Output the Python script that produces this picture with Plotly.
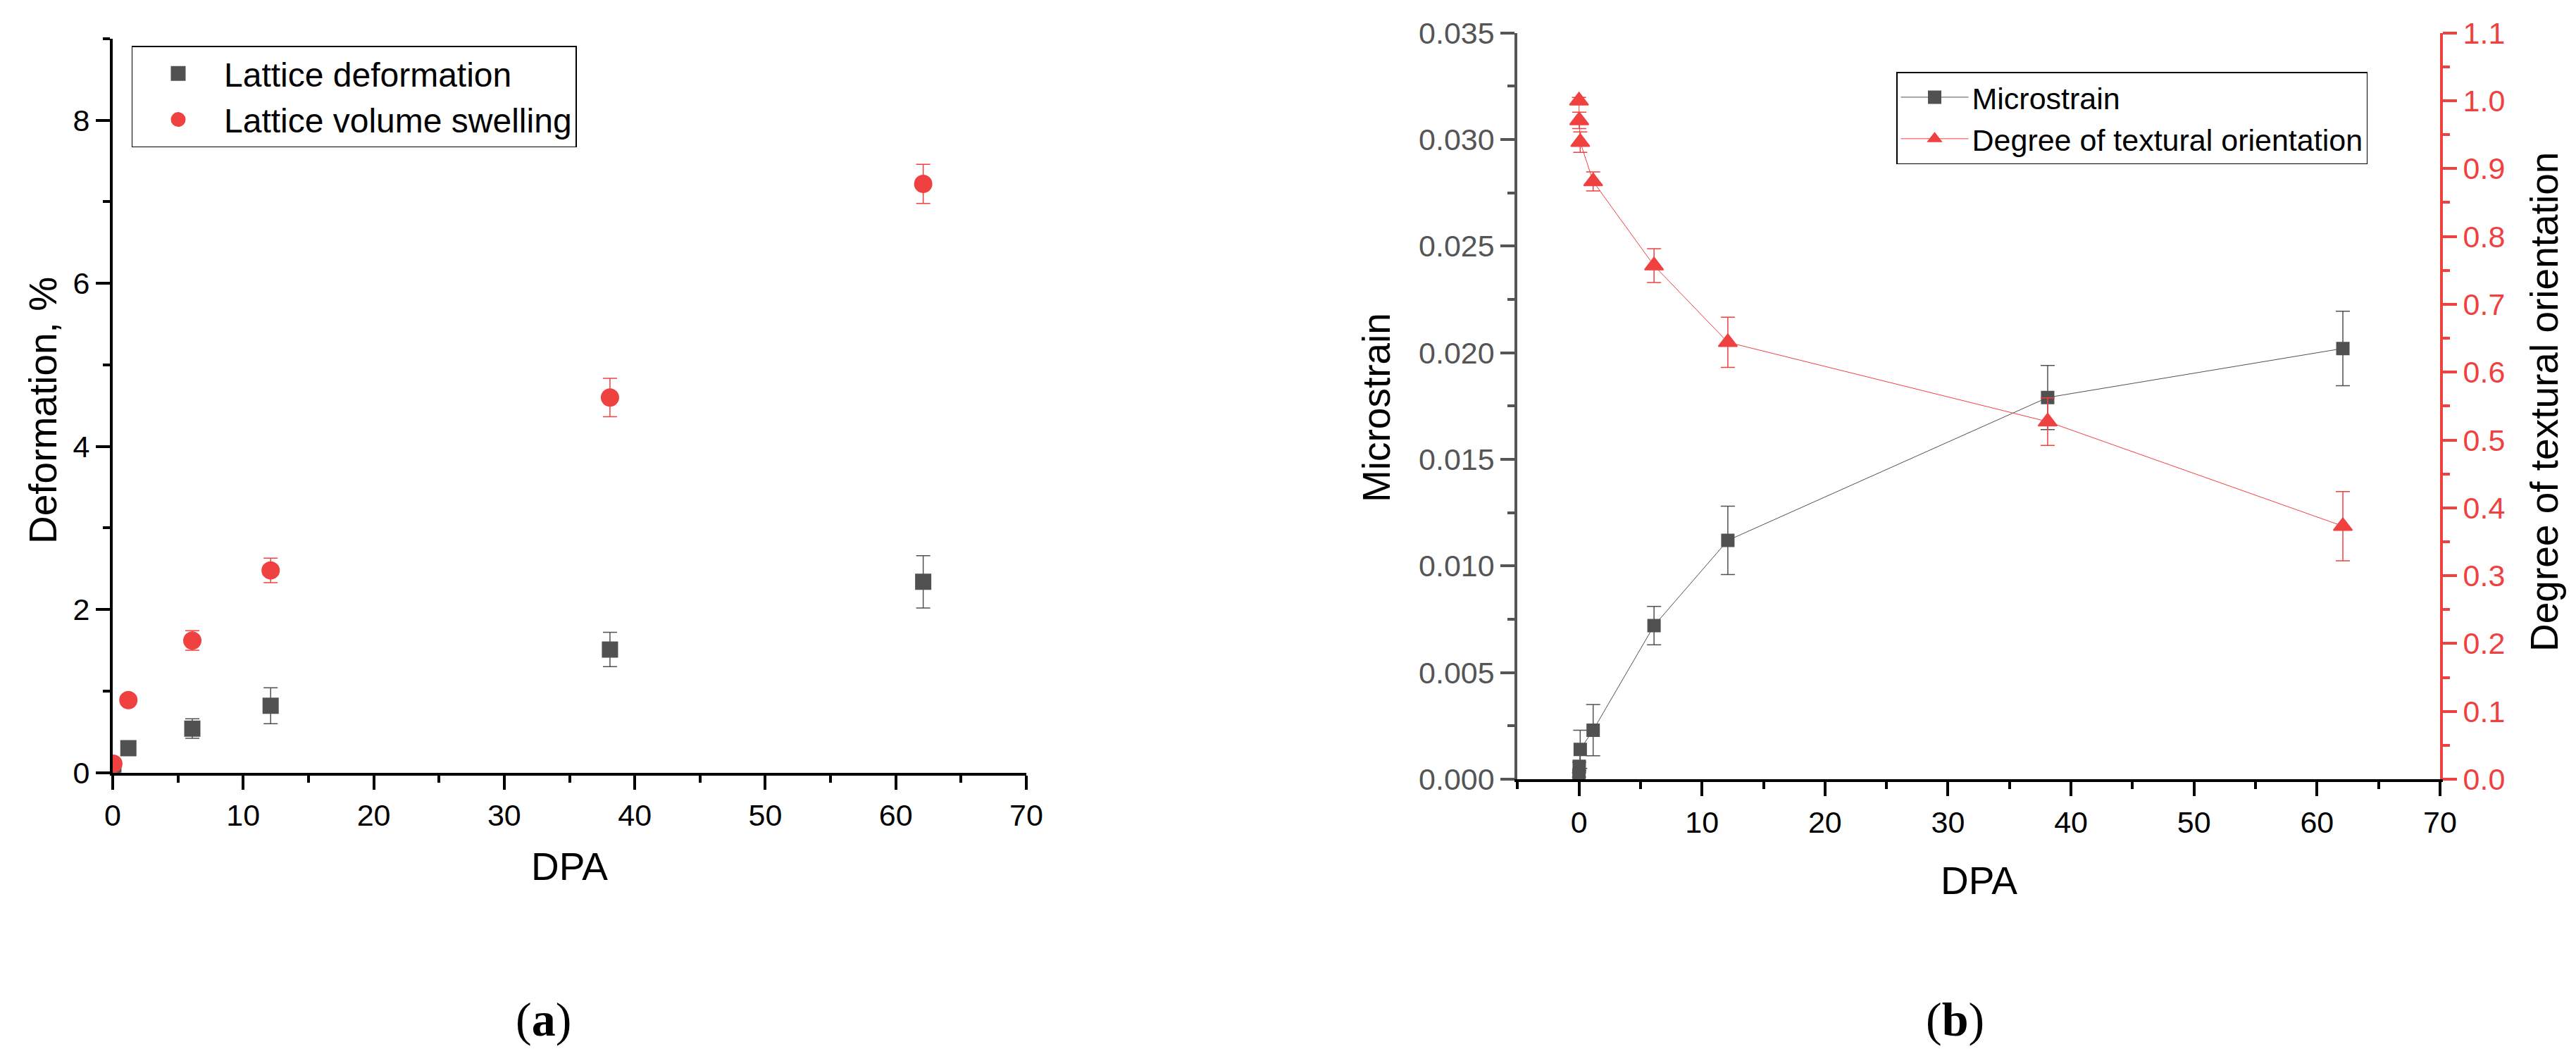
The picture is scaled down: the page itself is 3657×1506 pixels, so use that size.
import plotly.graph_objects as go

W, H = 3657, 1506

# ---------------- data: panel (a) ----------------
dpa_a = [0.05, 1.2, 6.1, 12.1, 38.1, 62.1]
lattice_deformation = [0.03, 0.30, 0.54, 0.82, 1.51, 2.34]
lattice_deformation_err = [0.02, 0.03, 0.12, 0.22, 0.21, 0.32]
volume_swelling = [0.11, 0.89, 1.62, 2.48, 4.60, 7.22]
volume_swelling_err = [0.03, 0.05, 0.12, 0.15, 0.235, 0.24]

# ---------------- data: panel (b) ----------------
dpa_b = [0.0, 0.02, 0.1, 1.15, 6.1, 12.1, 38.1, 62.1]
microstrain = [0.0002, 0.0006, 0.0014, 0.0023, 0.0072, 0.0112, 0.0179, 0.0202]
microstrain_err = [0.0001, 0.0002, 0.0009, 0.0012, 0.0009, 0.0016, 0.0015, 0.00175]
orientation = [1.0, 0.971, 0.939, 0.881, 0.757, 0.644, 0.527, 0.373]
orientation_err = [0.005, 0.012, 0.015, 0.014, 0.025, 0.037, 0.035, 0.051]

GRAY = "#515151"
AXGRAY = "#555555"
RED = "#F04141"
FONT = "Liberation Sans, Arial, sans-serif"
SERIF = "Liberation Serif, Times New Roman, serif"
TICKF = 43
TITLEF = 55


def px(xp):
    return xp / W


def py(yp):
    return 1 - yp / H


fig = go.Figure()

# panel (a)
fig.add_trace(go.Scatter(
    x=dpa_a, y=lattice_deformation, mode="markers", name="Lattice deformation",
    marker=dict(symbol="square", size=18, color=GRAY, line=dict(color=GRAY, width=5)),
    error_y=dict(type="data", array=lattice_deformation_err, color=GRAY, thickness=1.5, width=10),
    xaxis="x", yaxis="y", legend="legend"))
fig.add_trace(go.Scatter(
    x=dpa_a, y=volume_swelling, mode="markers", name="Lattice volume swelling",
    marker=dict(symbol="circle", size=21, color=RED, line=dict(color=RED, width=5)),
    error_y=dict(type="data", array=volume_swelling_err, color=RED, thickness=1.5, width=10),
    xaxis="x", yaxis="y", legend="legend"))

# panel (b)
fig.add_trace(go.Scatter(
    x=dpa_b, y=microstrain, mode="lines+markers", name="Microstrain",
    line=dict(color=GRAY, width=1),
    marker=dict(symbol="square", size=16, color=GRAY, line=dict(color=GRAY, width=3)),
    error_y=dict(type="data", array=microstrain_err, color=GRAY, thickness=1.5, width=10),
    xaxis="x2", yaxis="y2", legend="legend2"))
fig.add_trace(go.Scatter(
    x=dpa_b, y=orientation, mode="lines+markers", name="Degree of textural orientation",
    line=dict(color=RED, width=1),
    marker=dict(symbol="triangle-up", size=23, color=RED, line=dict(color=RED, width=2)),
    error_y=dict(type="data", array=orientation_err, color=RED, thickness=1.5, width=10),
    xaxis="x2", yaxis="y3", legend="legend2"))


def axis_common(color="black", dtick=None, minor_dtick=None, rng=None, fmt=None, fontcolor="black"):
    d = dict(
        showline=True, linewidth=4, linecolor=color, mirror=False, automargin=False,
        ticks="outside", ticklen=20, tickwidth=4, tickcolor=color,
        showgrid=False, zeroline=False, range=rng, dtick=dtick, tick0=0,
        tickfont=dict(family=FONT, size=TICKF, color=fontcolor),
        minor=dict(ticks="outside", ticklen=10, tickwidth=4, tickcolor=color, dtick=minor_dtick, tick0=0, showgrid=False),
    )
    if fmt:
        d["tickformat"] = fmt
    return d


xa = axis_common(dtick=10, minor_dtick=5, rng=[0, 70])
xa.update(domain=[px(160), px(1457)], anchor="y")
ya = axis_common(dtick=2, minor_dtick=1, rng=[0, 9])
ya.update(domain=[py(1096.7), py(55)], anchor="x")

xb = axis_common(dtick=10, minor_dtick=5, rng=[-5, 70])
xb.update(domain=[px(2154.3), px(3464)], anchor="y2")
yb = axis_common(color=AXGRAY, dtick=0.005, minor_dtick=0.0025, rng=[0, 0.035], fmt=".3f", fontcolor=AXGRAY)
yb.update(domain=[py(1106), py(46.7)], anchor="x2")
yr = axis_common(color=RED, dtick=0.1, minor_dtick=0.05, rng=[0, 1.1], fmt=".1f", fontcolor=RED)
yr.update(overlaying="y2", side="right", anchor="x2")
xt = dict(overlaying="x2", side="top", anchor="y2", range=[-5, 70], showline=True, linewidth=4,
          linecolor="black", ticks="inside", ticklen=20, tickwidth=4, tickcolor="black", automargin=False,
          dtick=10, tick0=0, showticklabels=False, showgrid=False, zeroline=False,
          minor=dict(ticks="inside", ticklen=10, tickwidth=4, tickcolor="black", dtick=5, tick0=0, showgrid=False))

fig.update_layout(
    width=W, height=H, autosize=False,
    margin=dict(l=0, r=0, t=0, b=0, pad=0, autoexpand=False),
    paper_bgcolor="white", plot_bgcolor="white",
    font=dict(family=FONT, color="black"),
    xaxis=xa, yaxis=ya, xaxis2=xb, yaxis2=yb, yaxis3=yr, xaxis3=xt,
    legend=dict(x=px(186.5), y=py(65), xanchor="left", yanchor="top",
                bordercolor="black", borderwidth=1.5, bgcolor="rgba(255,255,255,0)",
                font=dict(family=FONT, size=48), itemwidth=120, tracegroupgap=0),
    legend2=dict(x=px(2692), y=py(102), xanchor="left", yanchor="top",
                 bordercolor="black", borderwidth=1.5, bgcolor="rgba(255,255,255,0)",
                 font=dict(family=FONT, size=43), itemwidth=96, tracegroupgap=0),
    showlegend=True,
)

ann = [
    dict(text="Deformation, %", x=px(61), y=py(583), textangle=-90, size=TITLEF),
    dict(text="DPA", x=px(808), y=py(1230), textangle=0, size=TITLEF),
    dict(text="Microstrain", x=px(1954), y=py(579), textangle=-90, size=TITLEF),
    dict(text="Degree of textural orientation", x=px(3612), y=py(571), textangle=-90, size=TITLEF),
    dict(text="DPA", x=px(2809), y=py(1250), textangle=0, size=TITLEF),
]
for a in ann:
    fig.add_annotation(text=a["text"], x=a["x"], y=a["y"], xref="paper", yref="paper",
                       xanchor="center", yanchor="middle", showarrow=False, textangle=a["textangle"],
                       font=dict(family=FONT, size=a["size"], color="black"))
for lab, xp in [("a", 771), ("b", 2775)]:
    fig.add_annotation(text="(<b>%s</b>)" % lab, x=px(xp), y=py(1447), xref="paper", yref="paper",
                       xanchor="center", yanchor="middle", showarrow=False,
                       font=dict(family=SERIF, size=68, color="black"))

fig.write_html("out.html", config={"displayModeBar": False},
               post_script="document.body.style.margin='0';document.body.style.overflow='hidden';")
